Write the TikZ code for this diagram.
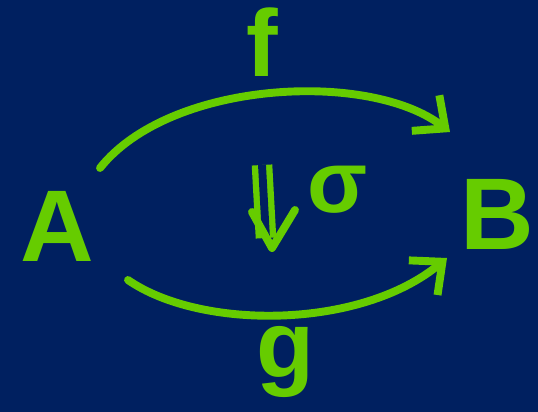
\documentclass[tikz,border=0pt]{standalone}
\usepackage{fontspec}
\setmainfont{Liberation Sans}
\usetikzlibrary{arrows.meta}
\definecolor{bgblue}{RGB}{0,32,96}
\definecolor{chalk}{RGB}{102,204,0}
\tikzset{
    obj/.style={text=chalk, font=\bfseries\fontsize{58}{60}\selectfont, inner sep=0pt},
    lbl/.style={text=chalk, font=\bfseries\fontsize{54}{58}\selectfont, inner sep=0pt},
    onecell/.style={chalk, line width=4.5pt, line cap=round,
        -{Straight Barb[length=5mm, width=9mm, line width=4.5pt]}},
    twocell/.style={chalk, line width=3.6pt, double=bgblue, double distance=4.5pt},
    twohead/.style={chalk, line width=4.5pt, line cap=round, line join=round}
}
\begin{document}
\begin{tikzpicture}[x=0.02cm, y=-0.02cm]
    % background
    \fill[bgblue] (0,0) rectangle (538,412);
    \useasboundingbox (0,0) rectangle (538,412);

    % objects
    \node[obj] (A) at (57,226) {A};
    \node[obj] (B) at (497,214) {B};

    % ends of the 1-cells
    \coordinate (fs) at (100,168);
    \coordinate (fe) at (450,132);
    \coordinate (gs) at (128,280);
    \coordinate (ge) at (447,258);

    % f on top
    \draw[onecell] (fs) .. controls (170,80) and (370,70) .. (fe);
    \node[lbl] (f) at (262,42) {f};

    % g below
    \draw[onecell] (gs) .. controls (200,330) and (360,330) .. (ge);
    \node[lbl] (g) at (285,362) {g};

    % 2-cell sigma
    \coordinate (ss) at (262,165);
    \coordinate (se) at (266,238);
    \coordinate (sl) at (252,212);
    \coordinate (sr) at (295,210);
    \coordinate (st) at (272,248);
    \draw[twocell] (ss) -- (se);
    \draw[twohead] (sl) -- (st) -- (sr);
    \node[lbl, font=\bfseries\fontsize{50}{54}\selectfont] (sigma) at (338,190) {σ};
\end{tikzpicture}
\end{document}
